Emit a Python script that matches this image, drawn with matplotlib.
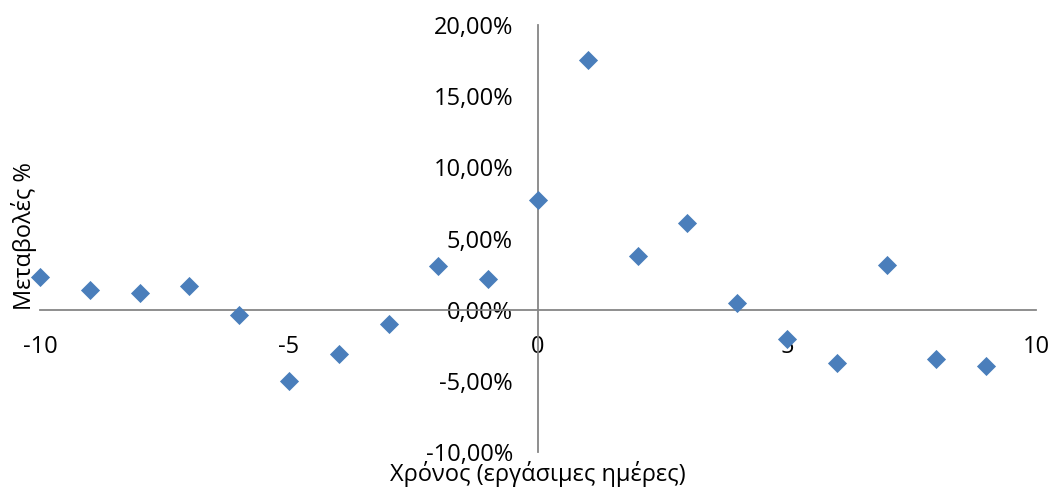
import matplotlib
matplotlib.use("Agg")
import matplotlib.pyplot as plt
from matplotlib.ticker import FuncFormatter, MultipleLocator

# Working-day offsets relative to the event day and the percentage change
days = [-10, -9, -8, -7, -6, -5, -4, -3, -2, -1, 0, 1, 2, 3, 4, 5, 6, 7, 8, 9]
changes = [2.30, 1.41, 1.20, 1.69, -0.40, -4.98, -3.10, -1.03, 3.05, 2.18,
           7.70, 17.51, 3.78, 6.08, 0.47, -2.09, -3.73, 3.17, -3.50, -3.97]

x_label = "Χρόνος (εργάσιμες ημέρες)"
y_label = "Μεταβολές %"

plt.rcParams["font.family"] = ["Open Sans", "DejaVu Sans"]
plt.rcParams["axes.unicode_minus"] = False

fig = plt.figure(figsize=(10.51, 4.87), dpi=100)
ax = fig.add_axes([40 / 1051, 1 - 452 / 487, (1036 - 40) / 1051, (452 - 25) / 487])

ax.scatter(days, changes, marker="D", s=95, color="#4a7ebb", zorder=3,
           linewidths=0, clip_on=False)

ax.set_xlim(-10, 10)
ax.set_ylim(-10, 20)
ax.xaxis.set_major_locator(MultipleLocator(5))
ax.yaxis.set_major_locator(MultipleLocator(5))
ax.yaxis.set_major_formatter(FuncFormatter(lambda v, p: f"{v:.2f}%".replace(".", ",")))

for side in ("top", "right"):
    ax.spines[side].set_visible(False)
for side in ("left", "bottom"):
    ax.spines[side].set_position(("data", 0))
    ax.spines[side].set_color("#868686")
    ax.spines[side].set_linewidth(1.3)

ax.tick_params(axis="both", length=0, labelsize=17, colors="black")
ax.tick_params(axis="x", pad=18)
ax.tick_params(axis="y", pad=18)

fig.text(538 / 1051, 1 - 474 / 487, x_label, ha="center", va="center", fontsize=17)
fig.text(24 / 1051, 1 - 236 / 487, y_label, ha="center", va="center", rotation=90, fontsize=17)

fig.savefig("out.png", dpi=100)
